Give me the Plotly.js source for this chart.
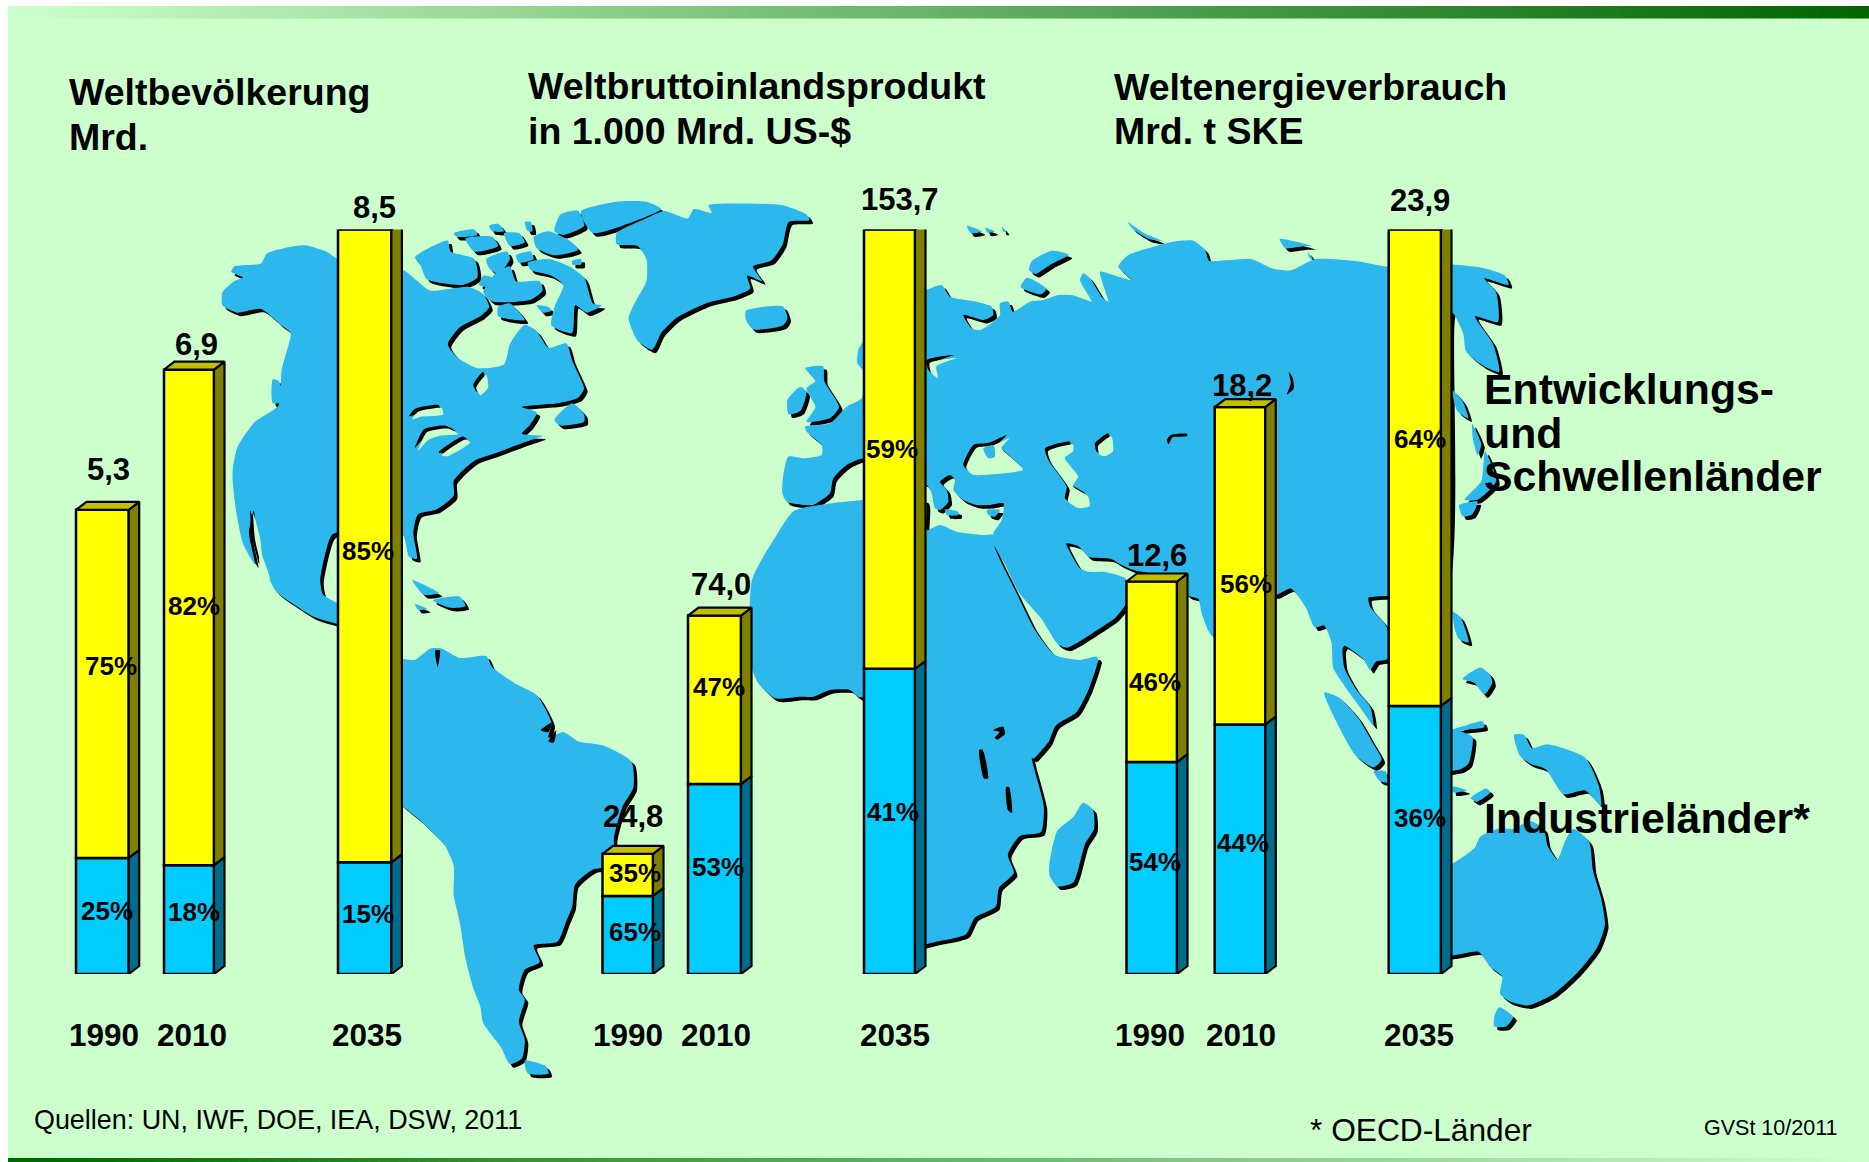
<!DOCTYPE html>
<html>
<head>
<meta charset="utf-8">
<script src="https://cdn.plot.ly/plotly-3.0.1.min.js"></script>
<style>html,body{margin:0;padding:0;background:#fff}</style>
</head>
<body>
<div id="chart" style="width:1869px;height:1162px"></div>
<script>
// ---- chart values ----
const years = ['1990', '2010', '2035'];
const popTotal = [5.3, 6.9, 8.5];
const popOecd = [25, 18, 15];
const popDev = [75, 82, 85];
const gdpTotal = [24.8, 74.0, 153.7];
const gdpOecd = [65, 53, 41];
const gdpDev = [35, 47, 59];
const energyTotal = [12.6, 18.2, 23.9];
const energyOecd = [54, 44, 36];
const energyDev = [46, 56, 64];
const popTotalLabels = ['5,3', '6,9', '8,5'];
const gdpTotalLabels = ['24,8', '74,0', '153,7'];
const energyTotalLabels = ['12,6', '18,2', '23,9'];

// ---- layout of the three bar groups ----
const popLeft = [76, 164, 338], popWidth = [52.7, 50, 53.4];
const gdpLeft = [602.5, 688, 864], gdpWidth = [50.5, 53, 51];
const energyLeft = [1126.5, 1214.7, 1388.7], energyWidth = [50.5, 50.6, 52.3];
const BAR_BOTTOM = 974, BAR_TOP = 229.5, DX = 10.5, DY = 8;

// ---- background world map outlines, traced per crop scale ----
const S = {
  A: [0, .593, 0, .37], B: [930, .599, 0, .37], C: [0, .593, 580, .371], D: [930, .599, 580, .371],
  E: [750, 1 / 3, 200, 1 / 3], F: [930, .37, 200, .37], G: [1000, .3954, 560, .384]
};
const P = (k, a) => a.map(p => [S[k][0] + S[k][1] * p[0], S[k][2] + S[k][3] * p[1]]);

const northAmerica = [...P('A', [[390,735],[395,720],[440,712],[450,685],[480,670],[515,663],[550,680],[570,700],[680,730],[700,755],[725,785],[790,775],[815,795],[825,830],[810,855],[775,885],[755,930],[770,965],[805,995],[850,985],[860,930],[885,878],[905,895],[925,940],[955,928],[965,975],[978,1020],[985,1050],[975,1075],[940,1090],[880,1100],[905,1115],[893,1150],[880,1172],[915,1178],[880,1198],[835,1225],[800,1245],[778,1275],[765,1300],[765,1340],[735,1378],[705,1390],[697,1440],[703,1510],[690,1505],[678,1440],[620,1430],[560,1445],[548,1500],[540,1568]]),
  ...P('C', [[545,40],[570,65],[640,210],[660,215],[600,130],[568,118],[530,100],[490,60],[465,30],[455,0]]),
  ...P('A', [[455,1560],[440,1490],[430,1400],[428,1380],[420,1440],[430,1525],[410,1470],[398,1380],[392,1280],[400,1210],[430,1140],[470,1095],[475,1000],[490,900],[475,880],[440,835],[400,845],[375,825],[375,790],[395,760],[410,750]])];
const greenland = P('A', [[1040,630],[1090,590],[1120,570],[1160,590],[1170,565],[1200,575],[1195,555],[1250,550],[1320,555],[1360,580],[1365,595],[1330,600],[1320,660],[1300,705],[1270,720],[1285,760],[1260,745],[1265,780],[1240,800],[1190,820],[1140,860],[1115,900],[1100,945],[1075,920],[1060,860],[1070,820],[1090,760],[1090,700],[1075,665],[1040,660]]);
const southAmerica = P('C', [[660,215],[700,215],[725,185],[745,185],[775,210],[820,205],[830,235],[870,280],[905,310],[930,385],[925,425],[950,410],[975,435],[1015,445],[1065,490],[1068,560],[1050,610],[1035,700],[1040,770],[1000,780],[970,820],[965,880],[955,920],[940,975],[900,985],[910,1030],[885,1050],[875,1105],[885,1130],[875,1190],[885,1240],[880,1290],[860,1305],[845,1260],[815,1195],[810,1150],[798,1100],[785,1020],[775,920],[765,850],[765,770],[750,715],[710,650],[660,575]]);
const eurasia = [...P('E', [[100,825],[115,770],[160,775],[215,765],[215,735],[170,695],[165,680],[240,670],[290,620],[335,595],[338,510],[322,490],[325,450],[340,420],[345,300],[526,270],[575,255],[600,290],[680,305],[725,320],[730,345],[700,360],[640,345],[665,385],[690,390],[730,365],[750,345],[750,310],[775,305],[788,335],[840,305],[880,300],[925,285],[965,285],[1010,300],[1025,305],[990,240],[1000,220],[1020,235],[1055,290],[1075,305],[1050,215],[1090,225],[1145,240],[1105,200],[1135,165],[1210,140],[1270,125],[1330,122],[1365,150],[1375,180]]),
  ...P('F', [[755,165],[870,160],[925,185],[975,190],[1040,160],[1150,165],[1235,180]]),
  ...P('B', [[872,715],[925,725],[960,745],[966,770],[925,752],[945,790],[948,870],[910,855],[940,930],[950,1005],[925,990],[895,950],[890,900],[872,845]]),
  ...P('F', [[1385,1060],[1235,1070],[1185,1075],[1190,1100],[1235,1155],[1238,1240],[1205,1248],[1190,1270],[1170,1240],[1120,1205],[1115,1215],[1120,1265],[1150,1320],[1190,1370],[1198,1420],[1165,1375],[1125,1320],[1090,1265],[1085,1195],[1065,1150],[1040,1155],[1015,1100],[975,1050],[935,1068],[905,1068],[765,1180],[735,1120],[725,1078],[700,1070],[640,1020],[550,1000],[515,985],[490,970],[430,965],[400,935],[368,928],[375,945],[405,995],[430,1005],[470,1005],[530,1025],[530,1090],[500,1130],[440,1170],[370,1210],[345,1200],[300,1130],[240,1060],[200,980],[175,935]]),
  ...P('E', [[730,1000],[755,960],[760,910],[720,915],[680,915],[640,900],[610,870],[615,840],[600,825],[570,845],[590,870],[595,905],[570,930],[555,925],[545,880],[530,855],[400,800],[342,775],[290,795],[250,835],[240,880],[190,915],[165,915],[110,905],[97,880]])];
const africa = [...P('A', [[1268,1568],[1310,1445],[1340,1380],[1450,1352]]),
  ...P('E', [[340,900],[526,900],[530,990],[570,975],[620,995],[700,1005],[730,1005],[735,1045],[770,1120],[800,1180],[855,1290],[915,1365],[990,1380],[1040,1370]]),
  ...P('F', [[455,1240],[430,1320],[395,1385],[340,1420],[320,1465],[280,1510]]),
  ...P('D', [[170,480],[190,610],[185,680],[150,690],[130,740],[140,790],[115,830],[110,880],[75,910],[60,955],[10,975]]),
  [910, 945], [905, 700],
  ...P('E', [[325,1490],[300,1470],[240,1470],[190,1490],[150,1490],[75,1495],[25,1450],[5,1400]])];
const australia = P('G', [[1100,800],[1145,790],[1200,750],[1215,720],[1260,700],[1300,700],[1340,680],[1375,700],[1385,745],[1410,780],[1430,730],[1450,700],[1490,735],[1500,810],[1520,880],[1530,950],[1510,1010],[1460,1075],[1400,1130],[1335,1160],[1290,1150],[1265,1130],[1270,1085],[1240,1060],[1210,1020],[1145,1030],[1100,1030]]);
const islands = [
  ...[[[700,695],[755,650],[760,680],[800,700],[805,750],[780,770],[720,755],[710,720]],
      [[765,630],[800,620],[805,635],[770,640]],[[785,645],[830,640],[840,665],[800,680]],
      [[825,610],[840,605],[850,625],[830,625]],[[850,630],[875,630],[885,655],[860,665]],
      [[885,600],[895,600],[898,625],[890,625]],[[900,640],[925,625],[960,650],[975,675],[935,690],[905,670]],
      [[820,700],[855,680],[860,700],[840,740],[825,725]],[[870,690],[895,680],[900,700],[875,710]],
      [[890,710],[925,700],[960,720],[985,750],[1000,820],[1015,825],[990,845],[970,825],[965,900],[930,880],[935,830],[950,770],[930,745],[895,730]],
      [[835,740],[860,720],[870,760],[910,760],[915,785],[895,810],[830,815],[815,790]],
      [[905,825],[925,830],[930,840],[915,845]],[[840,830],[860,820],[885,865],[840,855]],
      [[935,625],[945,580],[975,570],[985,610],[950,635]],[[980,570],[1040,545],[1090,545],[1115,565],[1050,610],[1000,630],[985,600]],
      [[965,705],[980,700],[980,715],[965,715]],[[815,745],[830,750],[820,775],[808,770]],
      [[1258,840],[1320,828],[1328,860],[1320,880],[1270,890],[1258,865]],
      [[1328,1080],[1350,1045],[1360,1060],[1350,1110],[1330,1120]],
      [[1358,995],[1388,990],[1390,1030],[1415,1100],[1400,1130],[1360,1140],[1375,1100],[1360,1050],[1375,1030]],
      [[935,1135],[965,1090],[985,1120],[985,1140],[945,1150]],
      [[460,1025],[470,1030],[478,1085],[460,1090]]].map(a => P('A', a)),
  ...[[[695,0],[740,35],[715,40]],[[730,55],[775,45],[785,70],[760,75]],[[700,65],[720,78],[705,80]],
      [[885,1295],[920,1310],[925,1330],[890,1330]]].map(a => P('C', a)),
  ...[[[100,70],[140,85],[110,90]],[[150,75],[175,85],[155,88]],[[195,72],[205,85],[197,85]],
      [[268,190],[275,165],[330,137],[375,148],[325,175],[285,200]],[[245,235],[262,210],[315,240],[300,255]],
      [[535,60],[580,90],[630,112],[590,105],[550,80]],[[945,105],[1035,125],[1010,125],[960,130]],[[1020,140],[1035,160],[1028,160]],
      [[1412,515],[1440,545],[1455,590],[1425,570]],[[1465,605],[1490,660],[1480,690],[1468,650]],
      [[1500,680],[1530,760],[1480,810],[1445,810],[1490,760]],[[1430,825],[1480,815],[1465,850],[1440,855]]].map(a => P('F', a)),
  ...[[[585,928],[625,935],[625,945],[590,945]],[[710,930],[750,930],[735,950],[715,945]]].map(a => P('E', a)),
  ...[[[125,790],[145,705],[185,670],[210,632],[235,650],[238,700],[215,740],[185,840],[145,850],[125,820]],
      [[820,345],[860,360],[905,410],[945,480],[965,520],[945,540],[900,510],[860,440]],
      [[945,550],[975,550],[980,580],[960,575]],
      [[1100,440],[1145,440],[1220,420],[1225,435],[1165,445],[1195,460],[1185,530],[1165,545],[1100,550]],
      [[1145,135],[1165,150],[1185,215],[1160,205],[1150,180]],
      [[1300,455],[1325,455],[1345,490],[1385,480],[1480,515],[1515,590],[1520,640],[1480,600],[1425,610],[1380,545],[1340,530],[1315,510]],
      [[1170,310],[1215,280],[1240,300],[1245,320],[1225,350],[1200,320]],
      [[1190,620],[1230,595],[1240,605],[1205,630]],[[1145,590],[1180,600],[1145,605]],
      [[1250,1190],[1262,1165],[1298,1190],[1280,1215],[1250,1215]]].map(a => P('G', a))
];
const lakes = [
  ...[[[640,795],[670,735],[705,730],[725,725],[770,705],[745,735],[770,760],[810,800],[760,810],[660,815]],
      [[885,745],[960,725],[960,745],[935,765],[975,820],[960,850],[1005,880],[1010,910],[975,915],[945,895],[950,860],[895,780]],
      [[1035,730],[1075,700],[1080,745],[1055,760],[1040,755]],
      [[530,480],[610,465],[550,490],[555,525],[535,510]]].map(a => P('E', a)),
  ...[[[690,1125],[700,1105],[740,1095],[742,1112],[705,1118]],[[700,1210],[715,1160],[750,1150],[768,1165],[735,1170],[718,1180]],
      [[740,1222],[780,1180],[788,1188],[750,1225]],
      [[798,1040],[815,1005],[818,1040],[805,1060]],[[422,1380],[434,1450],[437,1525],[425,1450]]].map(a => P('A', a))
];
const blackMarks = [
  ...[[[105,405],[122,395],[125,415],[112,430],[108,425],[116,410]],[[82,458],[88,458],[97,535],[90,535]],[[127,558],[132,558],[137,628],[130,620]]].map(a => P('D', a)),
  P('F', [[640,650],[650,635],[695,632],[695,638],[655,642],[645,660]]),
  P('F', [[970,465],[980,480],[983,510],[965,525],[975,495]]),
  P('C', [[912,405],[930,385],[925,410]]), P('C', [[925,435],[938,405],[934,438]]),
  P('C', [[734,190],[742,190],[738,235]])
];
const crimea = P('E', [[700,745],[730,735],[735,770],[715,775]]);

const land = [northAmerica, greenland, southAmerica, eurasia, africa, australia, ...islands];
const BLUE = '#2CB8EC', BG = '#CCFFCC', OFF = 3.5;

function multi(polys, dx = 0, dy = 0) {
  const x = [], y = [];
  polys.forEach(p => { p.forEach(q => { x.push(q[0] + dx); y.push(q[1] + dy); }); x.push(p[0][0] + dx, null); y.push(p[0][1] + dy, null); });
  return { x, y };
}
function fillTrace(xy, color, yaxis, smooth) {
  return { type: 'scatter', mode: 'lines', x: xy.x, y: xy.y, yaxis: yaxis || 'y', fill: 'toself', fillcolor: color,
           line: { width: 0, color, shape: smooth ? 'spline' : 'linear', smoothing: smooth ? .6 : undefined }, hoverinfo: 'skip', showlegend: false, cliponaxis: false };
}
const traces = [
  fillTrace(multi(land, OFF, OFF), '#000000', 'y', true),
  fillTrace(multi(land), BLUE, 'y', true),
  fillTrace(multi(lakes), '#000000', 'y', true),
  fillTrace(multi(lakes, 3, 3), BG, 'y', true),
  fillTrace(multi([crimea]), BLUE, 'y', true),
  fillTrace(multi(blackMarks), '#000000', 'y', true)
];

// ---- the bars, one value axis per group ----
const panels = [
  { axis: 'y2', total: popTotal, oecd: popOecd, dev: popDev, left: popLeft, width: popWidth },
  { axis: 'y3', total: gdpTotal, oecd: gdpOecd, dev: gdpDev, left: gdpLeft, width: gdpWidth },
  { axis: 'y4', total: energyTotal, oecd: energyOecd, dev: energyDev, left: energyLeft, width: energyWidth }
];
panels.forEach(p => {
  const low = p.total.map((t, i) => t * p.oecd[i] / 100);
  const high = p.total.map((t, i) => t * p.dev[i] / 100);
  const cx = p.left.map((l, i) => l + p.width[i] / 2);
  const line = { color: '#000000', width: 2.5 };
  traces.push({ type: 'bar', x: cx, y: low, base: 0, width: p.width, yaxis: p.axis, cliponaxis: false,
                marker: { color: '#00CCFF', line }, hoverinfo: 'skip', showlegend: false });
  traces.push({ type: 'bar', x: cx, y: high, base: low, width: p.width, yaxis: p.axis, cliponaxis: false,
                marker: { color: '#FFFF00', line }, hoverinfo: 'skip', showlegend: false });
  const maxV = Math.max(...p.total);
  const dv = DY * maxV / (BAR_BOTTOM - BAR_TOP);
  const face = (fn, col) => {
    const x = [], y = [];
    p.total.forEach((t, i) => { fn(i, t, x, y); x.push(null); y.push(null); });
    const tr = fillTrace({ x, y }, col, p.axis);
    tr.line = { color: '#000000', width: 2.2 };
    traces.push(tr);
  };
  const side = (i, a, b, x, y) => {
    const r = p.left[i] + p.width[i];
    x.push(r, r + DX, r + DX, r, r); y.push(a, a + dv, b + dv, b, a);
  };
  face((i, t, x, y) => side(i, 0, low[i], x, y), '#006C8C');
  face((i, t, x, y) => side(i, low[i], t, x, y), '#808000');
  face((i, t, x, y) => {
    const l = p.left[i], r = l + p.width[i];
    x.push(l, l + DX, r + DX, r, l); y.push(t, t + dv, t + dv, t, t);
  }, '#C0C000');
});

// ---- text ----
const K = 1869 / 1568;
const FONT = '"Liberation Sans", Arial, sans-serif';
const annotations = [];
function label(text, x, y, size, weight, anchor) {
  annotations.push({ text, x: x * K, y: y * K, xref: 'x', yref: 'y', showarrow: false, xanchor: anchor || 'center', yanchor: 'middle',
    font: { family: FONT, size, color: '#000', weight: weight === undefined ? 700 : weight } });
}
[['Weltbevölkerung', 56.5, 77], ['Mrd.', 56.5, 115], ['Weltbruttoinlandsprodukt', 441.5, 72], ['in 1.000 Mrd. US-$', 441.5, 110],
 ['Weltenergieverbrauch', 932.5, 73], ['Mrd. t SKE', 932.5, 110]].forEach(t => label(t[0], t[1], t[2], 37.5, 700, 'left'));
[['Entwicklungs-', 1243, 326], ['und', 1243, 363], ['Schwellenländer', 1243, 399], ['Industrieländer*', 1243, 686]]
  .forEach(t => label(t[0], t[1], t[2], 42.8, 700, 'left'));

const yearCx = [87.5, 161, 307.5, 526.5, 600.5, 751, 964.5, 1041, 1190.5];
yearCx.forEach((x, i) => label(years[i % 3], x, 868, 31.5));
const totalLabelPos = [[91,394],[165,289],[314,174],[531,685],[605,490],[755,167],[971,466],[1042,323],[1191,168]];
[...popTotalLabels, ...gdpTotalLabels, ...energyTotalLabels].forEach((t, i) => label(t, totalLabelPos[i][0], totalLabelPos[i][1], 31));
const pctPos = [[93,559],[163,508],[309,462],[533,732],[603,576],[748,377],[969,572],[1045,490],[1191,368]];
const pctPosLow = [[90,764],[163,765],[309,767],[533,782],[602,727],[749,681],[969,723],[1043,707],[1191,686]];
[...popDev, ...gdpDev, ...energyDev].forEach((v, i) => label(v + '%', pctPos[i][0], pctPos[i][1], 26));
[...popOecd, ...gdpOecd, ...energyOecd].forEach((v, i) => label(v + '%', pctPosLow[i][0], pctPosLow[i][1], 26));
label('Quellen: UN, IWF, DOE, IEA, DSW, 2011', 27, 940, 26.9, 400, 'left');
label('* OECD-Länder', 1097.5, 948, 31.7, 400, 'left');
label('GVSt 10/2011', 1428, 946, 21.5, 400, 'left');

// ---- frame: pale background and the two fading bands ----
const shapes = [{ type: 'rect', xref: 'x', yref: 'y', x0: 8, x1: 1869, y0: 6, y1: 1162, fillcolor: BG, line: { width: 0 }, layer: 'below' }];
const mix = t => `rgb(${Math.round(204 * (1 - t))},${Math.round(255 - 153 * t)},${Math.round(204 * (1 - t))})`;
const STEPS = 186;
for (let i = 0; i < STEPS; i++) {
  const x0 = 8 + (1861 * i) / STEPS, x1 = 8 + (1861 * (i + 1)) / STEPS + .6, t = i / (STEPS - 1);
  shapes.push({ type: 'rect', xref: 'x', yref: 'y', x0, x1, y0: 6, y1: 18.5, fillcolor: mix(t), line: { width: 0 }, layer: 'below' });
  shapes.push({ type: 'rect', xref: 'x', yref: 'y', x0, x1, y0: 1158, y1: 1162, fillcolor: mix(1 - t), line: { width: 0 }, layer: 'below' });
}

const barDomain = [(1162 - BAR_BOTTOM) / 1162, (1162 - BAR_TOP) / 1162];
const hidden = { visible: false, showgrid: false, zeroline: false, fixedrange: true };
const layout = {
  width: 1869, height: 1162, margin: { l: 0, r: 0, t: 0, b: 0 }, autosize: false,
  paper_bgcolor: '#FFFFFF', plot_bgcolor: 'rgba(0,0,0,0)', barmode: 'overlay', showlegend: false, hovermode: false,
  xaxis: { ...hidden, range: [0, 1869], domain: [0, 1] },
  yaxis: { ...hidden, range: [1162, 0], domain: [0, 1] },
  yaxis2: { ...hidden, range: [0, Math.max(...popTotal)], domain: barDomain, anchor: 'x' },
  yaxis3: { ...hidden, range: [0, Math.max(...gdpTotal)], domain: barDomain, anchor: 'x' },
  yaxis4: { ...hidden, range: [0, Math.max(...energyTotal)], domain: barDomain, anchor: 'x' },
  shapes, annotations
};
Plotly.newPlot('chart', traces, layout, { displayModeBar: false, staticPlot: true });
</script>
</body>
</html>
